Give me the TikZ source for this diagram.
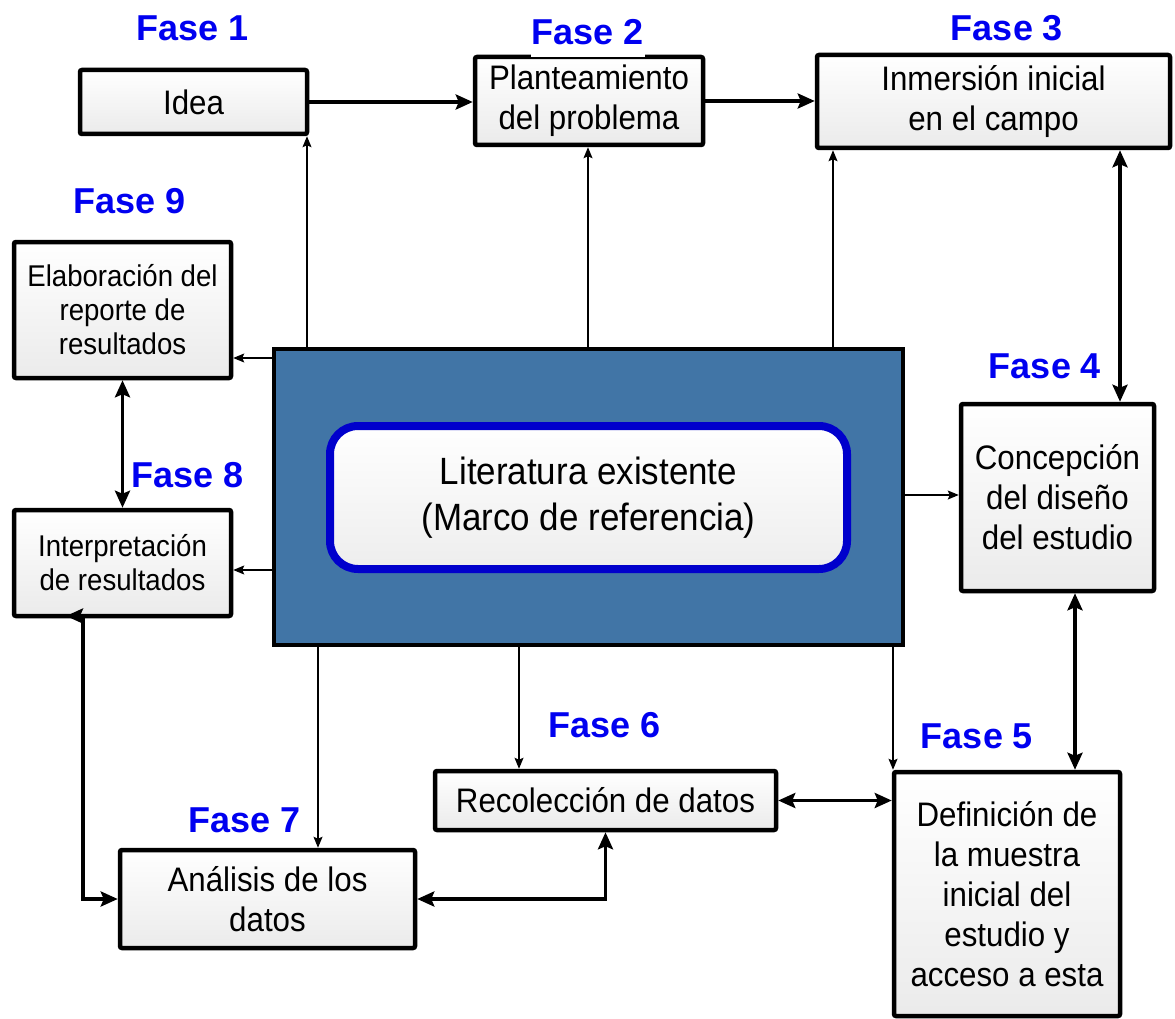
\documentclass[tikz,border=0pt]{standalone}
\usepackage{fontspec}
\setmainfont{Liberation Sans}
\newfontfamily\narrowfont{Liberation Sans}[FakeStretch=0.92]
\usetikzlibrary{arrows.meta}
\definecolor{fasecol}{RGB}{0,0,240}
\definecolor{bigblue}{RGB}{65,117,166}
\definecolor{innerblue}{RGB}{0,0,204}
\tikzset{
  box/.style={draw=black, line width=4.5pt, rounded corners=2pt, top color=white, bottom color=black!8,
     inner sep=0pt, align=center, font=\narrowfont\fontsize{34}{40}\selectfont},
  smallbox/.style={box, font=\narrowfont\fontsize{30}{34}\selectfont},
  fase/.style={text=fasecol, font=\fontsize{36}{40}\selectfont\bfseries, inner sep=1pt},
  thickline/.style={line width=3.5pt, >={Stealth[length=17pt,width=15pt,inset=3pt]}},
  thinarr/.style={line width=1.2pt, >={Stealth[length=11pt,width=9pt,inset=2pt]}, ->}
}
\begin{document}
\begin{tikzpicture}[x=1pt,y=-1pt]
\useasboundingbox (0,0) rectangle (1175,1019);
\fill[white] (0,0) rectangle (1175,1019);

% boxes
\node[box, minimum width=227pt, minimum height=64pt] (idea) at (193.5,102) {Idea};
\node[box, minimum width=228pt, minimum height=88pt] (plant) at (589,101) {Planteamiento\\del problema};
\node[box, minimum width=353pt, minimum height=93pt] (inm) at (993.5,101.5) {Inmersión inicial\\en el campo};
\node[smallbox, minimum width=217pt, minimum height=136pt] (elab) at (122.5,310) {Elaboración del\\reporte de\\resultados};
\node[smallbox, minimum width=217pt, minimum height=106pt] (interp) at (122.5,563) {Interpretación\\de resultados};
\node[box, minimum width=193pt, minimum height=187pt] (conc) at (1057.5,497.5) {Concepción\\del diseño\\del estudio};
\node[box, minimum width=341pt, minimum height=59pt] (recol) at (605.5,800.5) {Recolección de datos};
\node[box, minimum width=226pt, minimum height=244pt] (defin) at (1007,894) {Definición de\\la muestra\\inicial del\\estudio y\\acceso a esta};
\node[box, minimum width=295pt, minimum height=98pt] (anal) at (267.5,899) {Análisis de los\\datos};

% central block
\node[draw=black, line width=4pt, fill=bigblue, minimum width=629pt, minimum height=296pt, inner sep=0pt] (blue) at (588.5,497) {};
\node[draw=innerblue, line width=8pt, rounded corners=28pt, top color=white, bottom color=black!7,
      minimum width=517pt, minimum height=143pt, inner sep=0pt, align=center,
      font=\narrowfont\fontsize{38}{46}\selectfont] (lit) at (588.5,497.5) {Literatura existente\\(Marco de referencia)};

% helper coordinates
\coordinate (x307) at (307,0);
\coordinate (x588) at (588,0);
\coordinate (x833) at (833,0);
\coordinate (x318) at (318,0);
\coordinate (x519) at (519,0);
\coordinate (x893) at (893,0);
\coordinate (x1120) at (1120,0);
\coordinate (x1075) at (1075,0);
\coordinate (y358) at (0,358);
\coordinate (y570) at (0,570);
\coordinate (y495) at (0,495);
\coordinate (ib) at (83,616);
\coordinate (ibt) at (66,616);

% thick connectors
\draw[thickline, ->] (idea.east) -- (idea.east -| plant.west);
\draw[thickline, ->] (plant.east) -- (plant.east -| inm.west);
\draw[thickline, <->] (inm.south -| x1120) -- (conc.north -| x1120);
\draw[thickline, <->] (conc.south -| x1075) -- (defin.north -| x1075);
\draw[thickline, <->] (recol.east) -- (recol.east -| defin.west);
\draw[thickline, <->] (anal.east) -| (recol.south);
\draw[thickline, <->] (elab.south) -- (interp.north);
\draw[thickline, <->] (anal.west) -| (ib) -- (ibt);

% thin connectors from the central block
\draw[thinarr] (blue.north -| x307) -- (idea.south -| x307);
\draw[thinarr] (blue.north -| x588) -- (plant.south -| x588);
\draw[thinarr] (blue.north -| x833) -- (inm.south -| x833);
\draw[thinarr] (blue.west |- y358) -- (elab.east |- y358);
\draw[thinarr] (blue.west |- y570) -- (interp.east |- y570);
\draw[thinarr] (blue.east |- y495) -- (conc.west |- y495);
\draw[thinarr] (blue.south -| x318) -- (anal.north -| x318);
\draw[thinarr] (blue.south -| x519) -- (recol.north -| x519);
\draw[thinarr] (blue.south -| x893) -- (defin.north -| x893);

% phase labels
\node[fase] (f1) at (193,28) {Fase 1};
\node[fase, fill=white, minimum height=50pt, inner xsep=1pt] (f2) at (588,32) {Fase 2};
\node[fase] (f3) at (1007,28) {Fase 3};
\node[fase] (f9) at (130,201) {Fase 9};
\node[fase] (f4) at (1045,366) {Fase 4};
\node[fase] (f8) at (188,475) {Fase 8};
\node[fase] (f6) at (605,725) {Fase 6};
\node[fase] (f5) at (977,736) {Fase 5};
\node[fase] (f7) at (245,820) {Fase 7};
\end{tikzpicture}
\end{document}
